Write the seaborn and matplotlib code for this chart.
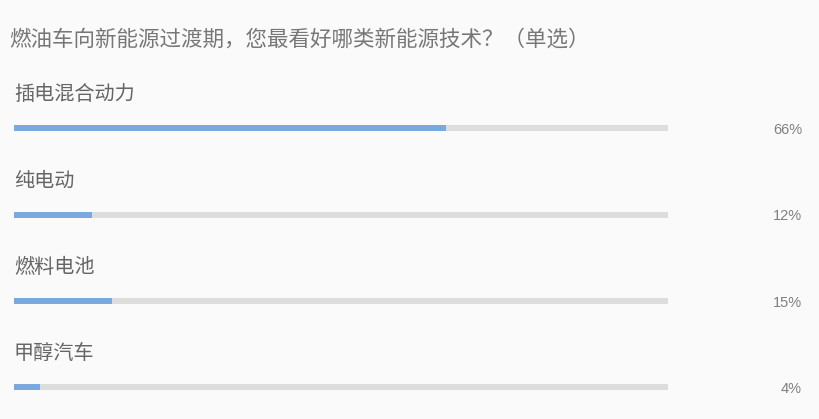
import matplotlib
matplotlib.use("Agg")
import matplotlib.pyplot as plt
import seaborn as sns
import pandas as pd

# Data
title = "燃油车向新能源过渡期，您最看好哪类新能源技术？（单选）"
options = ["插电混合动力", "纯电动", "燃料电池", "甲醇汽车"]
shares = [66, 12, 15, 4]
full = [100, 100, 100, 100]

sns.set_theme(style="white")
plt.rcParams["font.family"] = ["Noto Sans CJK SC", "DejaVu Sans"]

W, H = 820, 419
fig = plt.figure(figsize=(W / 100, H / 100), dpi=100)
fig.patch.set_facecolor("#fafafa")

# axes spans the track area horizontally, full height vertically
ax = fig.add_axes([14 / W, 0, (668 - 14) / W, 1])
ax.set_facecolor("none")

df = pd.DataFrame({"option": options, "share": shares, "full": full})
row_px = 86.3
first_px = 128.5
bar_h = 6 / row_px

sns.barplot(data=df, x="full", y="option", orient="h", color="#dddddd",
            width=bar_h, saturation=1, linewidth=0, ax=ax)
sns.barplot(data=df, x="share", y="option", orient="h", color="#7aaadd",
            width=bar_h, saturation=1, linewidth=0, ax=ax)

ax.set_xlim(0, 100)
ax.set_ylim((H - first_px) / row_px, -first_px / row_px)
ax.axis("off")

for i, (name, v) in enumerate(zip(options, shares)):
    ax.text(0.0, i - 34 / row_px, name, ha="left", va="center",
            fontsize=14.5, color="#666666")
    ax.text(100 + 134 / 6.54, i + 1.5 / row_px, f"{v}%", ha="right",
            va="center", fontsize=10.5, color="#808080", clip_on=False,
            family=["Liberation Sans", "DejaVu Sans"])

fig.text(9 / W, 1 - 40 / H, title, ha="left", va="center",
         fontsize=15.5, color="#777777")

fig.savefig("out.png", dpi=100, facecolor=fig.get_facecolor())
